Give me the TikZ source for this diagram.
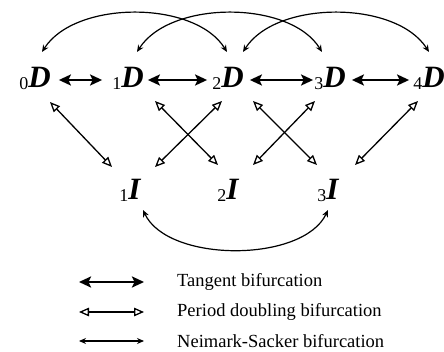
\documentclass[tikz,border=0pt]{standalone}
\usepackage{fontspec}
\setmainfont{Liberation Serif}
\usetikzlibrary{arrows.meta,calc}
\newcommand\subnum[1]{\raisebox{-2pt}{\fontsize{18}{18}\selectfont\mdseries\upshape #1}}
\begin{document}
\begin{tikzpicture}[x=1pt,y=-1pt,
  st/.style={font=\fontsize{31}{31}\selectfont\bfseries\itshape, inner sep=0pt},
  tb/.style={line width=2.6pt,{Stealth[length=12pt,width=11pt,inset=2.5pt]}-{Stealth[length=12pt,width=11pt,inset=2.5pt]}},
  pd/.style={line width=1.3pt,{Triangle[open,length=10pt,width=8.5pt]}-{Triangle[open,length=10pt,width=8.5pt]}},
  ns/.style={line width=1.2pt,{Stealth[length=7pt,width=6pt]}-{Stealth[length=7pt,width=6pt]}},
  lab/.style={font=\fontsize{18.5}{20}\selectfont, anchor=west, inner sep=0pt}]
\useasboundingbox (0,0) rectangle (444,352);
% D nodes
\node[st] (d0) at (35,78) {\subnum{0}D};
\node[st] (d1) at (128,78) {\subnum{1}D};
\node[st] (d2) at (228,78) {\subnum{2}D};
\node[st] (d3) at (330,78) {\subnum{3}D};
\node[st] (d4) at (429,78) {\subnum{4}D};
% I nodes
\node[st] (i1) at (130,190) {\subnum{1}I};
\node[st] (i2) at (228,190) {\subnum{2}I};
\node[st] (i3) at (328,190) {\subnum{3}I};
% tangent
\draw[tb] ($(d0.east)+(8,2)$) -- ($(d1.west)+(-10,2)$);
\draw[tb] ($(d1.east)+(4,2)$) -- ($(d2.west)+(-5,2)$);
\draw[tb] ($(d2.east)+(6,2)$) -- ($(d3.west)+(-1,2)$);
\draw[tb] ($(d3.east)+(6,2)$) -- ($(d4.west)+(-4,2)$);
% period doubling
\draw[pd] ($(d0)+(15,24)$) -- ($(i1)+(-18,-23)$);
\draw[pd] ($(d1)+(27,23)$) -- ($(i2)+(-10,-25)$);
\draw[pd] ($(d2)+(-6,23)$) -- ($(i1)+(25,-23)$);
\draw[pd] ($(d2)+(25,23)$) -- ($(i3)+(-11,-25)$);
\draw[pd] ($(d3)+(-15,23)$) -- ($(i2)+(25,-25)$);
\draw[pd] ($(d4)+(-11,23)$) -- ($(i3)+(27,-25)$);
% Neimark-Sacker
\draw[ns] ($(d0)+(7,-26)$) .. controls ($(d0)+(40,-78)$) and ($(d2)+(-33,-78)$) .. ($(d2)+(-1,-26)$);
\draw[ns] ($(d1)+(9,-26)$) .. controls ($(d1)+(42,-78)$) and ($(d3)+(-40,-78)$) .. ($(d3)+(-8,-26)$);
\draw[ns] ($(d2)+(15,-26)$) .. controls ($(d2)+(48,-78)$) and ($(d4)+(-33,-78)$) .. ($(d4)+(0,-26)$);
\draw[ns] ($(i1)+(13,20)$) .. controls ($(i1)+(38,73)$) and ($(i3)+(-25,73)$) .. ($(i3)+(0,20)$);
% legend
\coordinate (l1a) at (79,282); \coordinate (l1b) at (144,282);
\coordinate (l2a) at (79,312); \coordinate (l2b) at (144,312);
\coordinate (l3a) at (79,341); \coordinate (l3b) at (144,341);
\draw[tb] (l1a) -- (l1b);
\draw[pd] (l2a) -- (l2b);
\draw[ns] (l3a) -- (l3b);
\node[lab] (t1) at (177,282) {Tangent bifurcation};
\node[lab] (t2) at (177,312) {Period doubling bifurcation};
\node[lab] (t3) at (177,341) {Neimark-Sacker bifurcation};
\end{tikzpicture}
\end{document}
